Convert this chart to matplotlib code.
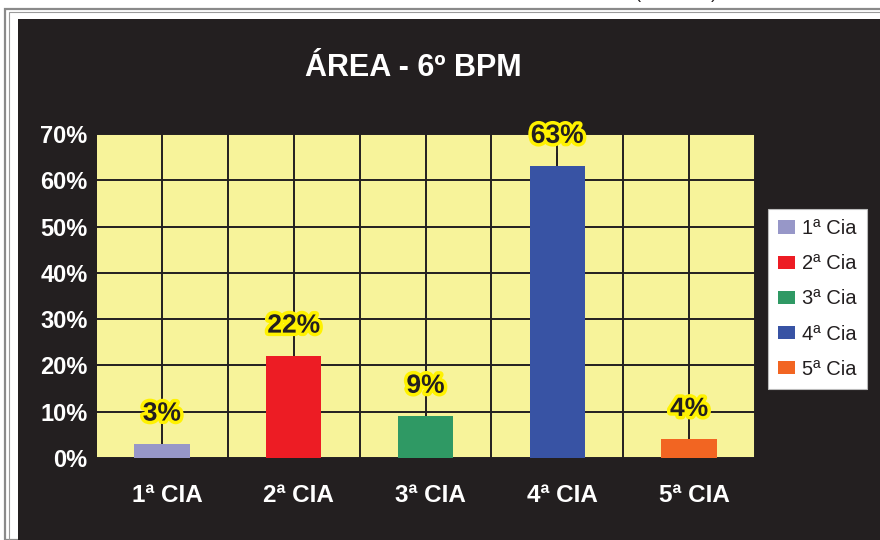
import matplotlib
matplotlib.use('Agg')
from matplotlib import pyplot as plt
from matplotlib.patches import Rectangle
from matplotlib.transforms import ScaledTranslation
import matplotlib.patheffects as pe
import numpy as np

# dados do grafico
categorias = ['1ª CIA', '2ª CIA', '3ª CIA', '4ª CIA', '5ª CIA']
legenda = ['1ª Cia', '2ª Cia', '3ª Cia', '4ª Cia', '5ª Cia']
valores = [3, 22, 9, 63, 4]
rotulos = ['3%', '22%', '9%', '63%', '4%']
cores = ['#9797c8', '#ed1c24', '#2f9964', '#3853a4', '#f26522']
yticks = [0, 10, 20, 30, 40, 50, 60, 70]

plt.rcParams['font.family'] = ['Liberation Sans', 'DejaVu Sans']

fig = plt.figure(figsize=(8.8, 5.4), dpi=100)
fig.patch.set_facecolor('white')

W, H = 880.0, 540.0
# molduras externas e painel escuro (coordenadas em pixels -> fracao)
fig.patches.append(Rectangle((5 / W, 0), 1, 1 - 9 / H, transform=fig.transFigure,
                             fill=False, edgecolor='#8a8a8a', lw=1.6, zorder=-10))
fig.patches.append(Rectangle((9 / W, 0), 1, 1 - 12 / H, transform=fig.transFigure,
                             fill=False, edgecolor='#9a9a9a', lw=0.8, zorder=-10))
fig.patches.append(Rectangle((18 / W, 0), 1, 1 - 19 / H, transform=fig.transFigure,
                             facecolor='#231f20', edgecolor='none', zorder=-9))

# pedaco de texto cortado no topo
fig.text(676 / W, 1.0 + 2 / H, '(              )', fontsize=13, color='#231f20',
         ha='center', va='baseline')

ax = fig.add_axes([96 / W, 1 - 458 / H, (755 - 96) / W, (458 - 134) / H])
ax.set_facecolor('#f7f39a')

x = np.arange(len(categorias))
for i in range(len(categorias)):
    ax.bar(x[i], valores[i], width=0.42, color=cores[i], label=legenda[i], zorder=3)

ax.set_xlim(-0.5, len(categorias) - 0.5)
ax.set_ylim(0, 70)
ax.set_yticks(yticks)
ax.set_yticklabels([f'{v}%' for v in yticks])
ax.set_xticks(x)
ax.set_xticklabels(categorias)
ax.set_xticks(np.arange(-0.5, len(categorias), 1.0), minor=True)

ax.grid(True, which='major', color='#231f20', lw=1.4, zorder=1)
ax.grid(True, which='minor', axis='x', color='#231f20', lw=1.4, zorder=1)
ax.set_axisbelow(True)
ax.tick_params(which='both', length=0)
ax.tick_params(axis='y', pad=6, labelsize=17, labelcolor='white')
ax.tick_params(axis='x', pad=19, labelsize=17.5, labelcolor='white')
desloc = ScaledTranslation(5 / 100, 0, fig.dpi_scale_trans)
for lab in ax.get_xticklabels():
    lab.set_fontweight('bold')
    lab.set_transform(lab.get_transform() + desloc)
for lab in ax.get_yticklabels():
    lab.set_fontweight('bold')
for s in ax.spines.values():
    s.set_visible(False)
ax.spines['left'].set_visible(True)
ax.spines['left'].set_color('#231f20')
ax.spines['left'].set_linewidth(1.4)

# rotulos dos valores com contorno amarelo
for i in range(len(categorias)):
    ax.annotate(rotulos[i], (x[i], valores[i]), xytext=(0, 22), textcoords='offset points',
                ha='center', va='center', fontsize=19, fontweight='bold', color='#231f20',
                zorder=5,
                path_effects=[pe.withStroke(linewidth=5, foreground='#fff200')])
# linha de chamada do maior valor
imax = int(np.argmax(valores))
ax.vlines(x[imax], valores[imax], valores[imax] + 3.0, color='#231f20', lw=1.2, zorder=4)

fig.text(413 / W, 1 - 68 / H, 'ÁREA - 6º BPM', color='white', fontsize=22,
         fontweight='bold', ha='center', va='center')

leg = ax.legend(loc='center left', bbox_to_anchor=(768 / W, 1 - 299 / H),
                bbox_transform=fig.transFigure, fontsize=14.5, frameon=True,
                fancybox=False, framealpha=1, edgecolor='#bbbbbb',
                handlelength=0.85, handleheight=0.65, handletextpad=0.35,
                labelspacing=0.8, borderpad=0.5, borderaxespad=0)
leg.get_frame().set_linewidth(0.8)
for t in leg.get_texts():
    t.set_color('#231f20')

fig.savefig('out.png', dpi=100)
